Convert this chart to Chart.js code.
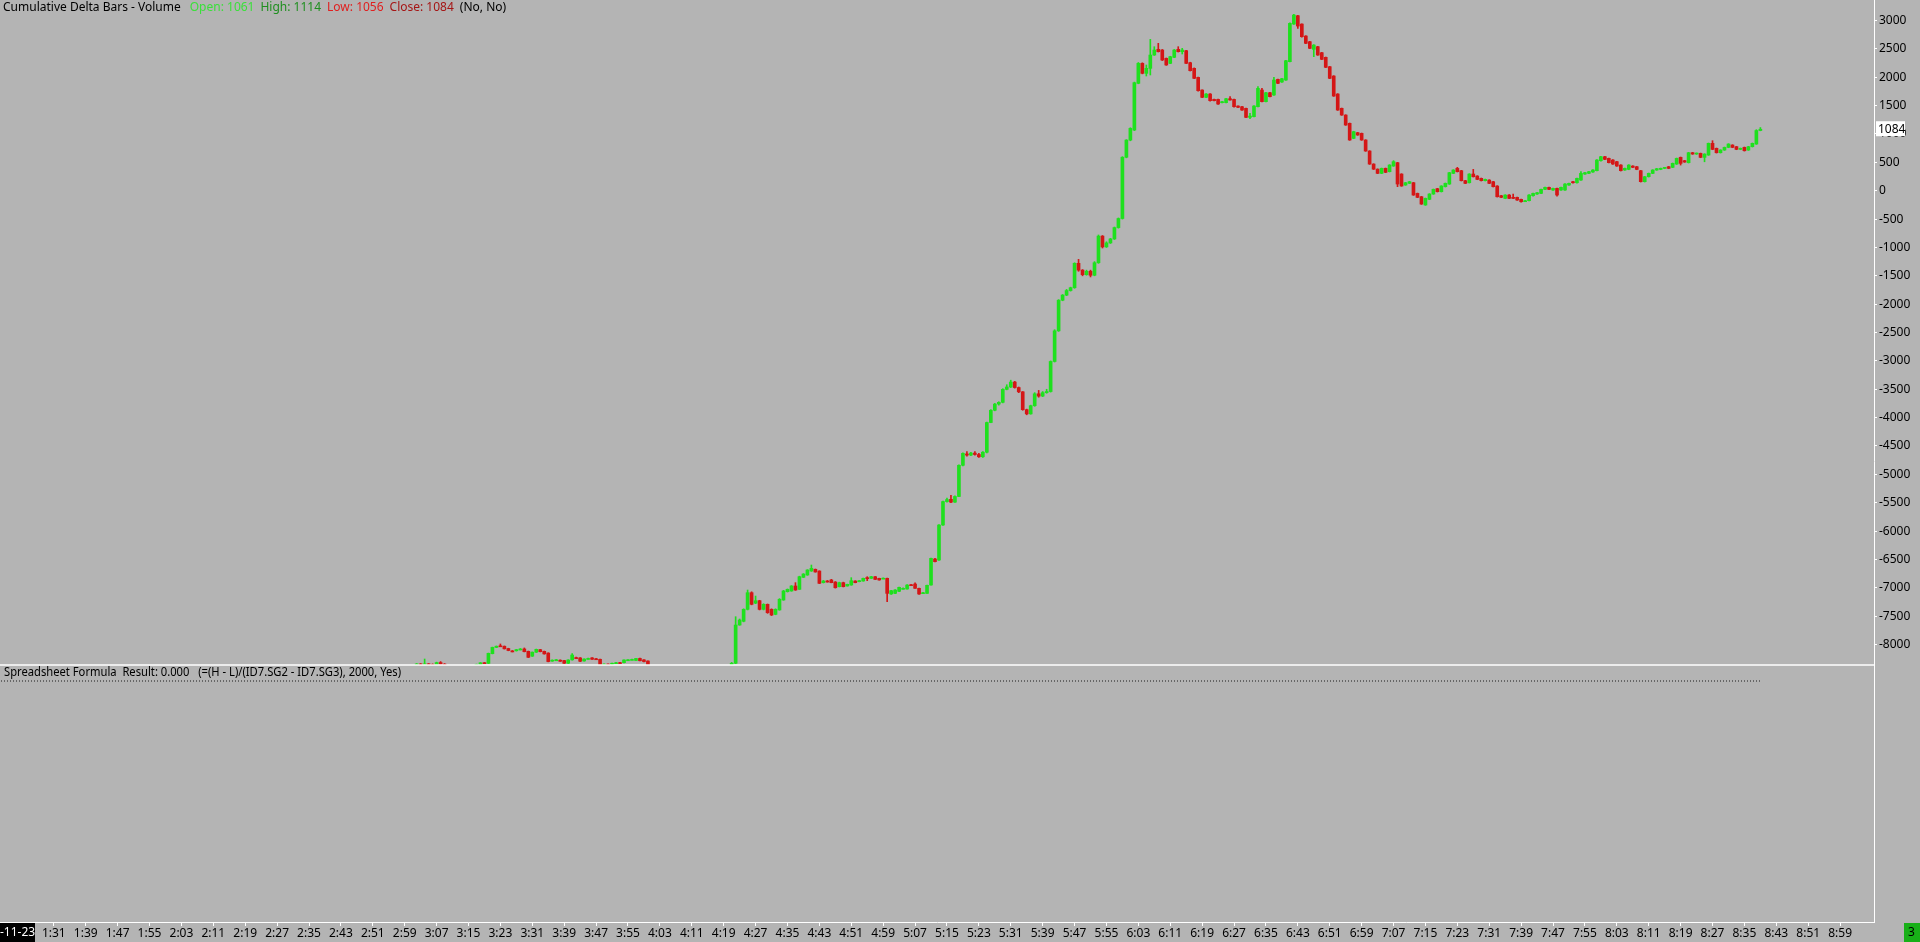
<!DOCTYPE html>
<html>
<head>
<meta charset="utf-8">
<title>Cumulative Delta Bars - Volume</title>
<script src="https://cdn.jsdelivr.net/npm/chart.js@4.4.1/dist/chart.umd.min.js"></script>
<style>
  html, body { margin: 0; padding: 0; background: #b4b4b4; overflow: hidden; }
  #wrap { width: 1920px; height: 942px; }
</style>
</head>
<body>
<div id="wrap"><canvas id="deltaChart" width="1920" height="942"></canvas></div>
<script>
// Cumulative delta, one bar per minute starting at firstBarTime (null = below the visible range)
const firstBarTime = '3:02';

const opens = [
  -8360, -8342, -8352, -8340, -8350, -8356, -8318, -8345, null, null,
  null, null, null, null, null, -8380, -8360, -8320, -8332, -8160,
  -8050, -8022, -8030, -8070, -8112, -8110, -8090, -8078, -8120, -8205,
  -8135, -8090, -8120, -8150, -8290, -8280, -8275, -8282, -8330, -8270,
  -8230, -8235, -8290, -8255, -8235, -8250, -8260, -8360, -8345, -8350,
  -8335, -8318, -8320, -8272, -8270, -8280, -8245, -8270, -8290, null,
  null, null, null, null, null, null, null, null, null, null,
  null, null, null, null, null, null, null, null, null, -8380,
  -8330, -7656, -7590, -7380, -7086, -7270, -7227, -7380, -7291, -7380,
  -7468, -7390, -7215, -7068, -7056, -6968, -7027, -6815, -6774, -6704,
  -6674, -6704, -6909, -6880, -6862, -6898, -6980, -6909, -6968, -6951,
  -6880, -6892, -6880, -6821, -6833, -6804, -6833, -6836, -6833, -7109,
  -7098, -7062, -7021, -7021, -6945, -6933, -7009, -7098, -7098, -6951,
  -6492, -6510, -5893, -5480, -5440, -5490, -5390, -4840, -4640, -4660,
  -4625, -4650, -4690, -4610, -4086, -3870, -3761, -3730, -3502, -3460,
  -3373, -3470, -3545, -3860, -3934, -3790, -3580, -3620, -3560, -3540,
  -3010, -2470, -1930, -1840, -1760, -1710, -1280, -1400, -1480, -1420,
  -1490, -1270, -800, -990, -920, -850, -650, -490, 590, 893,
  1070, 1893, 2245, 2069, 2157, 2392, 2492, 2480, 2333, 2245,
  2351, 2492, 2451, 2469, 2257, 2157, 1998, 1775, 1646, 1705,
  1610, 1610, 1552, 1552, 1622, 1610, 1493, 1481, 1452, 1293,
  1305, 1481, 1775, 1570, 1728, 1687, 1963, 1916, 1951, 2275,
  2938, 3085, 2938, 2727, 2627, 2492, 2539, 2433, 2351, 2186,
  2022, 1705, 1452, 1334, 1188, 923, 1023, 1011, 894, 700,
  470, 380, 306, 394, 336, 435, 494, 294, 100, 130,
  141, -47, -106, -252, -152, -58, 36, -17, 71, 118,
  306, 394, 353, 177, 141, 294, 259, 218, 177, 188,
  159, 83, -88, -135, -76, -117, -117, -152, -188, -176,
  -88, -58, -47, 24, 59, 12, 41, 12, 12, 100,
  159, 141, 188, 294, 306, 330, 353, 529, 600, 570,
  541, 512, 453, 365, 376, 435, 423, 353, 159, 247,
  306, 365, 376, 394, 423, 412, 470, 588, 529, 494,
  670, 647, 658, 588, 629, 835, 747, 670, 717, 764,
  805, 776, 729, 764, 717, 776, 823, 1061
];

const highs = [
  -8335, -8335, -8255, -8335, -8340, -8310, -8300, -8335, null, null,
  null, null, null, null, null, -8345, -8318, -8315, -8150, -8045,
  -8025, -7990, -8025, -8065, -8105, -8085, -8070, -8060, -8115, -8130,
  -8080, -8085, -8115, -8145, -8270, -8262, -8270, -8278, -8268, -8160,
  -8220, -8230, -8250, -8240, -8230, -8245, -8255, -8340, -8340, -8325,
  -8315, -8315, -8270, -8265, -8258, -8242, -8240, -8265, -8285, null,
  null, null, null, null, null, null, null, null, null, null,
  null, null, null, null, null, null, null, null, null, -8315,
  -7509, -7550, -7370, -7039, -7070, -7145, -7220, -7280, -7285, -7370,
  -7370, -7190, -7045, -7020, -6960, -6909, -6795, -6750, -6680, -6598,
  -6668, -6700, -6870, -6870, -6850, -6890, -6900, -6900, -6935, -6821,
  -6875, -6868, -6828, -6804, -6798, -6800, -6830, -6825, -6828, -7045,
  -7030, -6985, -7000, -6945, -6940, -6910, -7005, -7080, -6950, -6475,
  -6480, -5885, -5470, -5420, -5370, -5380, -4830, -4620, -4600, -4610,
  -4600, -4630, -4600, -4080, -3860, -3750, -3720, -3490, -3420, -3340,
  -3360, -3460, -3540, -3850, -3780, -3560, -3520, -3540, -3500, -3000,
  -2450, -1920, -1830, -1740, -1700, -1270, -1210, -1390, -1400, -1400,
  -1250, -780, -790, -900, -840, -640, -480, 600, 900, 1110,
  1915, 2260, 2255, 2216, 2668, 2539, 2598, 2490, 2340, 2370,
  2490, 2539, 2510, 2475, 2265, 2165, 2005, 1780, 1712, 1712,
  1615, 1615, 1575, 1628, 1658, 1615, 1498, 1486, 1458, 1363,
  1500, 1834, 1804, 1735, 1734, 1998, 1968, 1981, 2300, 2958,
  3110, 3092, 2944, 2733, 2633, 2575, 2545, 2440, 2357, 2192,
  2028, 1711, 1458, 1340, 1194, 1048, 1029, 1017, 900, 706,
  476, 386, 400, 400, 459, 530, 500, 300, 147, 165,
  147, -41, -100, -129, -52, 30, 42, 89, 136, 324,
  371, 412, 359, 183, 300, 376, 265, 224, 206, 194,
  165, 89, -82, -70, -70, -58, -111, -146, -170, -70,
  -41, -29, 30, 65, 65, 47, 47, 65, 124, 136,
  165, 224, 336, 324, 342, 371, 547, 606, 606, 576,
  547, 518, 459, 400, 459, 441, 429, 359, 253, 312,
  371, 394, 400, 406, 429, 488, 576, 594, 535, 676,
  676, 666, 664, 652, 841, 882, 753, 723, 770, 829,
  811, 782, 753, 770, 782, 841, 1076, 1114
];

const lows = [
  -8370, -8360, -8360, -8358, -8362, -8362, -8350, -8380, null, null,
  null, null, null, null, null, -8385, -8365, -8335, -8338, -8165,
  -8055, -8035, -8080, -8110, -8130, -8115, -8095, -8130, -8230, -8210,
  -8140, -8130, -8170, -8305, -8295, -8284, -8298, -8335, -8335, -8275,
  -8245, -8300, -8295, -8258, -8262, -8265, -8375, -8365, -8358, -8355,
  -8338, -8328, -8325, -8275, -8272, -8282, -8290, -8305, -8380, null,
  null, null, null, null, null, null, null, null, null, null,
  null, null, null, null, null, null, null, null, null, -8385,
  -8340, -7660, -7600, -7390, -7300, -7280, -7390, -7390, -7450, -7490,
  -7475, -7395, -7220, -7075, -7060, -7045, -7030, -6820, -6780, -6710,
  -6725, -6925, -6915, -6900, -6912, -7005, -6985, -6985, -6970, -6955,
  -6912, -6895, -6884, -6874, -6836, -6855, -6866, -6840, -7244, -7115,
  -7102, -7068, -7025, -7025, -6958, -7012, -7115, -7100, -7100, -6955,
  -6545, -6515, -5900, -5490, -5500, -5495, -5395, -4850, -4680, -4670,
  -4660, -4700, -4700, -4620, -4090, -3880, -3780, -3740, -3510, -3470,
  -3480, -3560, -3870, -3950, -3940, -3800, -3640, -3630, -3570, -3550,
  -3020, -2480, -1940, -1850, -1770, -1720, -1420, -1500, -1490, -1520,
  -1500, -1280, -1010, -1000, -930, -860, -660, -500, 580, 880,
  1060, 1885, 2060, 2022, 2040, 2385, 2445, 2295, 2210, 2240,
  2345, 2445, 2410, 2240, 2110, 1975, 1755, 1640, 1640, 1580,
  1582, 1520, 1548, 1548, 1595, 1475, 1465, 1416, 1288, 1270,
  1300, 1476, 1565, 1565, 1652, 1682, 1887, 1910, 1946, 2270,
  2932, 2862, 2708, 2592, 2505, 2363, 2386, 2310, 2170, 1975,
  1663, 1416, 1328, 1152, 888, 918, 976, 888, 694, 464,
  374, 300, 300, 318, 330, 430, 71, 78, 95, 125,
  -82, -123, -241, -258, -158, -64, -23, -23, 65, 112,
  300, 330, 171, 124, 135, 241, 194, 171, 171, 124,
  65, -112, -123, -141, -141, -141, -170, -200, -194, -182,
  -94, -64, -53, 18, 18, 6, -94, 6, 6, 94,
  135, 135, 182, 288, 300, 324, 347, 523, 547, 488,
  464, 429, 347, 359, 370, 406, 370, 153, 153, 241,
  300, 359, 370, 388, 388, 406, 464, 452, 500, 488,
  641, 641, 582, 510, 623, 723, 664, 664, 711, 758,
  758, 723, 723, 699, 711, 770, 817, 1056
];

const closes = [
  -8342, -8352, -8340, -8350, -8356, -8318, -8345, -8372, null, null,
  null, null, null, null, null, -8350, -8322, -8332, -8155, -8050,
  -8030, -8030, -8075, -8105, -8125, -8090, -8078, -8125, -8225, -8135,
  -8085, -8125, -8165, -8300, -8275, -8268, -8295, -8330, -8272, -8185,
  -8240, -8295, -8255, -8245, -8260, -8262, -8370, -8345, -8355, -8330,
  -8320, -8325, -8272, -8268, -8262, -8245, -8285, -8300, -8370, null,
  null, null, null, null, null, null, null, null, null, null,
  null, null, null, null, null, null, null, null, null, -8330,
  -7656, -7568, -7380, -7086, -7291, -7227, -7380, -7291, -7438, -7479,
  -7380, -7203, -7056, -7027, -6968, -7039, -6804, -6757, -6686, -6657,
  -6721, -6921, -6880, -6898, -6909, -6998, -6909, -6980, -6939, -6874,
  -6909, -6874, -6833, -6839, -6804, -6851, -6862, -6830, -7098, -7050,
  -7039, -6992, -7009, -6951, -6955, -7009, -7109, -7086, -6956, -6481,
  -6539, -5893, -5480, -5445, -5490, -5390, -4840, -4630, -4660, -4625,
  -4650, -4690, -4610, -4086, -3870, -3761, -3730, -3502, -3460, -3373,
  -3470, -3545, -3860, -3934, -3790, -3580, -3620, -3560, -3540, -3010,
  -2470, -1930, -1840, -1760, -1710, -1280, -1400, -1480, -1420, -1490,
  -1270, -800, -990, -920, -850, -650, -490, 590, 893, 1099,
  1904, 2245, 2069, 2157, 2392, 2480, 2451, 2304, 2216, 2363,
  2480, 2451, 2480, 2245, 2116, 1981, 1763, 1646, 1705, 1587,
  1587, 1528, 1570, 1622, 1599, 1481, 1470, 1422, 1293, 1316,
  1493, 1804, 1570, 1728, 1658, 1951, 1893, 1975, 2292, 2950,
  3097, 2903, 2715, 2598, 2510, 2568, 2392, 2316, 2175, 1981,
  1669, 1422, 1334, 1158, 894, 1041, 982, 894, 700, 470,
  380, 306, 394, 324, 453, 512, 118, 83, 141, 159,
  -76, -117, -235, -135, -58, 24, -17, 83, 130, 318,
  365, 336, 177, 130, 294, 247, 200, 177, 200, 130,
  71, -106, -117, -76, -135, -135, -164, -194, -176, -76,
  -47, -35, 24, 59, 24, 41, -76, 59, 118, 130,
  141, 218, 306, 318, 336, 365, 541, 600, 553, 494,
  470, 435, 353, 394, 453, 412, 376, 159, 247, 306,
  365, 388, 394, 400, 394, 482, 570, 482, 506, 670,
  647, 660, 588, 646, 835, 729, 670, 717, 764, 823,
  764, 729, 747, 705, 776, 835, 1061, 1084
];

// Lower pane: spreadsheet formula result (flat at 0)
const formulaTimes = ['1:17', '8:39'];
const formulaValues = [0, 0];

// Axis labels
const xTickLabels = [
  '1:31', '1:39', '1:47', '1:55', '2:03', '2:11', '2:19', '2:27', '2:35', '2:43',
  '2:51', '2:59', '3:07', '3:15', '3:23', '3:31', '3:39', '3:47', '3:55', '4:03',
  '4:11', '4:19', '4:27', '4:35', '4:43', '4:51', '4:59', '5:07', '5:15', '5:23',
  '5:31', '5:39', '5:47', '5:55', '6:03', '6:11', '6:19', '6:27', '6:35', '6:43',
  '6:51', '6:59', '7:07', '7:15', '7:23', '7:31', '7:39', '7:47', '7:55', '8:03',
  '8:11', '8:19', '8:27', '8:35', '8:43', '8:51', '8:59'
];
const yTickValues = [
  3000, 2500, 2000, 1500, 1000, 500, 0, -500, -1000, -1500, -2000, -2500,
  -3000, -3500, -4000, -4500, -5000, -5500, -6000, -6500, -7000, -7500, -8000
];

const BG = '#b4b4b4';
const UP = '#1ee01e';
const DOWN = '#d41616';
const FONT = '"Noto Sans", "DejaVu Sans", sans-serif';
const LOWER_PANE_H = 257;

// minutes after 1:31 (first x label)
function toMinutes(t) {
  const [h, m] = t.split(':').map(Number);
  return h * 60 + m - 91;
}

const base = toMinutes(firstBarTime);
const wickData = [];
const bodyData = [];
const barColors = [];
opens.forEach((o, i) => {
  if (o === null) return;
  wickData.push({ x: base + i, y: [lows[i], highs[i]] });
  bodyData.push({ x: base + i, y: [o, closes[i]] });
  barColors.push(closes[i] >= o ? UP : DOWN);
});
const formulaData = formulaTimes.map((t, i) => ({ x: toMinutes(t), y: formulaValues[i] }));

const mainClip = { left: 0, top: 0, right: 0, bottom: -LOWER_PANE_H };

const paneDecor = {
  id: 'paneDecor',
  beforeDraw(chart) {
    const ctx = chart.ctx;
    ctx.save();
    ctx.fillStyle = BG;
    ctx.fillRect(0, 0, chart.width, chart.height);
    ctx.restore();
  },
  afterDraw(chart) {
    const { ctx, chartArea, scales } = chart;
    const last = closes.length - 1;
    const divY = chartArea.bottom - LOWER_PANE_H;
    ctx.save();

    // pane divider
    ctx.strokeStyle = '#ffffff';
    ctx.lineWidth = 1.5;
    ctx.beginPath();
    ctx.moveTo(0, divY);
    ctx.lineTo(chartArea.right, divY);
    ctx.stroke();

    ctx.font = '12px ' + FONT;
    ctx.textBaseline = 'middle';

    // main pane header
    const parts = [
      ['Cumulative Delta Bars - Volume', '#000000'],
      ['Open: ' + opens[last], '#3be03b'],
      ['High: ' + highs[last], '#1f8f1f'],
      ['Low: ' + lows[last], '#e02020'],
      ['Close: ' + closes[last], '#a51515'],
      ['(No, No)', '#000000']
    ];
    let x = 3;
    parts.forEach(([txt, col], i) => {
      ctx.fillStyle = col;
      ctx.fillText(txt, x, 8);
      x += ctx.measureText(txt).width + (i === 0 ? 9 : 6);
    });

    // lower pane header
    ctx.fillStyle = '#000000';
    ctx.fillText('Spreadsheet Formula  Result: 0.000   (=(H - L)/(ID7.SG2 - ID7.SG3), 2000, Yes)', 4, divY + 8, 397);

    // last value marker on the price axis
    const vy = scales.y.getPixelForValue(closes[last]);
    ctx.fillStyle = '#ffffff';
    ctx.fillRect(chartArea.right + 2, vy - 8, 29, 15);
    ctx.fillStyle = '#000000';
    ctx.fillText(String(closes[last]), chartArea.right + 4, vy);

    // date stamp, bottom left
    const axTop = chartArea.bottom + 1;
    ctx.fillStyle = '#000000';
    ctx.fillRect(0, axTop, 35, chart.height - axTop);
    ctx.fillStyle = '#ffffff';
    ctx.fillText('-11-23', 0, axTop + 10);

    // green status box, bottom right
    ctx.fillStyle = '#18b018';
    ctx.fillRect(chart.width - 16, axTop, 16, chart.height - axTop);
    ctx.fillStyle = '#000000';
    ctx.fillText('3', chart.width - 12, axTop + 10);

    ctx.restore();
  }
};

new Chart(document.getElementById('deltaChart'), {
  type: 'bar',
  data: {
    datasets: [
      {
        label: 'wicks',
        data: wickData,
        backgroundColor: barColors,
        barThickness: 1,
        grouped: false,
        clip: mainClip,
        order: 2
      },
      {
        label: 'bodies',
        data: bodyData,
        backgroundColor: barColors,
        barThickness: 3,
        minBarLength: 1,
        grouped: false,
        clip: mainClip,
        order: 1
      },
      {
        type: 'line',
        label: 'Spreadsheet Formula',
        data: formulaData,
        yAxisID: 'y2',
        borderColor: '#1a1a1a',
        borderWidth: 1,
        borderDash: [1, 2],
        pointRadius: 0,
        order: 0
      }
    ]
  },
  options: {
    responsive: false,
    animation: false,
    layout: { padding: 0, autoPadding: false },
    plugins: {
      legend: { display: false },
      tooltip: { enabled: false }
    },
    scales: {
      x: {
        type: 'linear',
        offset: false,
        min: -13.5,
        max: 456.5,
        grid: { offset: false, drawOnChartArea: false, color: '#ffffff', tickLength: 4 },
        border: { color: '#ffffff', width: 1 },
        ticks: {
          autoSkip: false,
          maxRotation: 0,
          padding: 0,
          color: '#000000',
          font: { family: FONT, size: 12 },
          callback: (v, i) => xTickLabels[i]
        },
        afterBuildTicks: scale => {
          scale.ticks = xTickLabels.map(t => ({ value: toMinutes(t) }));
        },
        afterFit: scale => {
          scale.height = 20;
          scale.paddingLeft = 0;
          scale.paddingRight = 0;
        }
      },
      y: {
        position: 'right',
        min: -12891,
        max: 3362,
        grid: { drawOnChartArea: false, color: '#ffffff', tickLength: 3 },
        border: { color: '#ffffff', width: 1 },
        ticks: {
          padding: 2,
          color: '#000000',
          font: { family: FONT, size: 12 },
          callback: v => String(v)
        },
        afterBuildTicks: scale => {
          scale.ticks = yTickValues.map(v => ({ value: v }));
        },
        afterFit: scale => {
          scale.width = 46;
          scale.paddingTop = 0;
          scale.paddingBottom = 0;
        }
      },
      y2: {
        display: false,
        min: -241,
        max: 681
      }
    }
  },
  plugins: [paneDecor]
});
</script>
</body>
</html>
